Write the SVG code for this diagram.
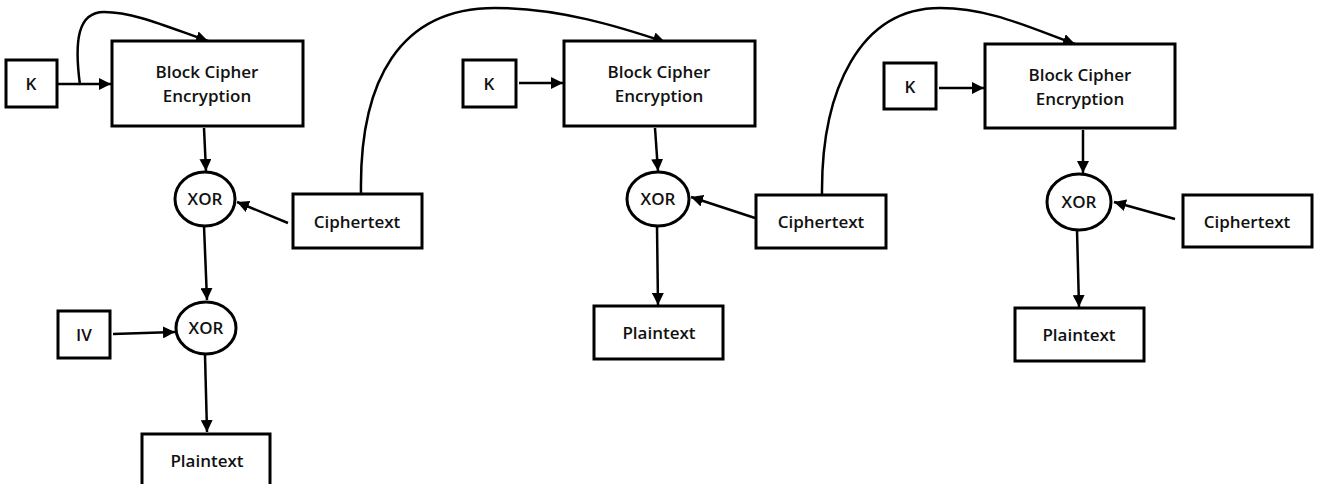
<svg xmlns="http://www.w3.org/2000/svg" width="1319" height="484" viewBox="0 0 1319 484">
  <defs>
    <marker id="arrow" markerUnits="userSpaceOnUse" markerWidth="13" markerHeight="12" refX="12" refY="6" orient="auto">
      <path d="M0,0 L12,6 L0,12 z" fill="#000"/>
    </marker>
    <style>
      .box { fill: #fff; stroke: #000; stroke-width: 3; }
      .xor { fill: #fff; stroke: #000; stroke-width: 3; }
      .lbl { font-family: "Open Sans", "Liberation Sans", sans-serif; font-weight: 600; font-size: 17px; fill: #111; text-anchor: middle; }
      .edge { fill: none; stroke: #000; stroke-width: 2.5; marker-end: url(#arrow); }
    </style>
  </defs>
  <rect width="1319" height="484" fill="#fff"/>

  <!-- connectors -->
  <g id="connectors">
    <!-- stage 1 -->
    <path class="edge" d="M57,84 L111,84"/>
    <path class="edge" d="M80,85 C74,40 78,12 104,12 C135,12 170,28 208,41"/>
    <path class="edge" d="M204,128 L206,171"/>
    <path class="edge" d="M288,223 L237,202"/>
    <path class="edge" d="M204,226 L207,300"/>
    <path class="edge" d="M113,334 L175,332"/>
    <path class="edge" d="M205,355 L207,432"/>
    <!-- feed from first ciphertext to second stage -->
    <path class="edge" d="M361,194 C359,80 400,8 495,8 C560,8 620,27 665,42"/>
    <!-- stage 2 -->
    <path class="edge" d="M519,83 L563,83"/>
    <path class="edge" d="M655,128 L658,171"/>
    <path class="edge" d="M755,218 L691,197"/>
    <path class="edge" d="M657,226 L658,305"/>
    <!-- feed from second ciphertext to third stage -->
    <path class="edge" d="M822,195 C821,90 860,8 940,8 C990,8 1030,28 1075,44"/>
    <!-- stage 3 -->
    <path class="edge" d="M939,88 L984,88"/>
    <path class="edge" d="M1083,130 L1083,173"/>
    <path class="edge" d="M1175,219 L1114,202"/>
    <path class="edge" d="M1077,230 L1079,307"/>
  </g>

  <!-- stage 1 nodes -->
  <g id="k1"><rect class="box" x="6" y="60" width="51" height="47"/><text class="lbl" x="31" y="90">K</text></g>
  <g id="block1"><rect class="box" x="112" y="41" width="191" height="85"/><text class="lbl" x="207" y="78">Block Cipher</text><text class="lbl" x="207" y="102">Encryption</text></g>
  <g id="xor1"><ellipse class="xor" cx="205" cy="199" rx="30" ry="27"/><text class="lbl" x="205" y="205">XOR</text></g>
  <g id="cipher1"><rect class="box" x="293" y="194" width="129" height="54"/><text class="lbl" x="357" y="228">Ciphertext</text></g>
  <g id="iv"><rect class="box" x="58" y="311" width="52" height="47"/><text class="lbl" x="84" y="341">IV</text></g>
  <g id="xor2"><ellipse class="xor" cx="206" cy="328" rx="30" ry="26"/><text class="lbl" x="206" y="334">XOR</text></g>
  <g id="plain1"><rect class="box" x="142" y="434" width="128" height="60"/><text class="lbl" x="207" y="467">Plaintext</text></g>

  <!-- stage 2 nodes -->
  <g id="k2"><rect class="box" x="463" y="60" width="53" height="47"/><text class="lbl" x="489" y="90">K</text></g>
  <g id="block2"><rect class="box" x="564" y="41" width="191" height="85"/><text class="lbl" x="659" y="78">Block Cipher</text><text class="lbl" x="659" y="102">Encryption</text></g>
  <g id="xor3"><ellipse class="xor" cx="658" cy="199" rx="31" ry="27"/><text class="lbl" x="658" y="205">XOR</text></g>
  <g id="cipher2"><rect class="box" x="756" y="195" width="130" height="53"/><text class="lbl" x="821" y="228">Ciphertext</text></g>
  <g id="plain2"><rect class="box" x="594" y="306" width="129" height="53"/><text class="lbl" x="659" y="339">Plaintext</text></g>

  <!-- stage 3 nodes -->
  <g id="k3"><rect class="box" x="884" y="63" width="52" height="46"/><text class="lbl" x="910" y="93">K</text></g>
  <g id="block3"><rect class="box" x="985" y="44" width="190" height="84"/><text class="lbl" x="1080" y="81">Block Cipher</text><text class="lbl" x="1080" y="105">Encryption</text></g>
  <g id="xor4"><ellipse class="xor" cx="1079" cy="202" rx="32" ry="28"/><text class="lbl" x="1079" y="208">XOR</text></g>
  <g id="cipher3"><rect class="box" x="1183" y="195" width="129" height="52"/><text class="lbl" x="1247" y="228">Ciphertext</text></g>
  <g id="plain3"><rect class="box" x="1015" y="308" width="129" height="53"/><text class="lbl" x="1079" y="341">Plaintext</text></g>
</svg>
